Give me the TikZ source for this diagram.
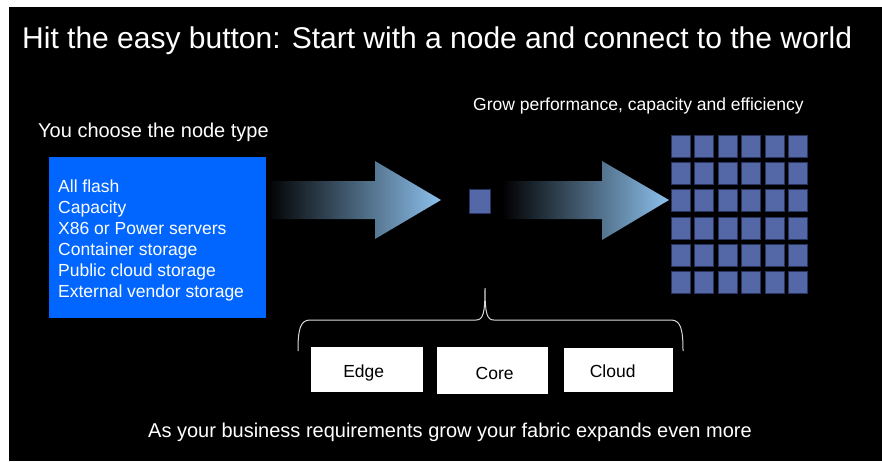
\documentclass[tikz,border=0pt]{standalone}
\usepackage{fontspec}
\setmainfont{Liberation Sans}
\usetikzlibrary{shapes.geometric}
\definecolor{boxblue}{RGB}{0,102,255}
\definecolor{sqblue}{RGB}{84,104,168}
\definecolor{sqedge}{RGB}{40,52,95}
\definecolor{arrowlight}{RGB}{140,192,236}
\tikzset{
  txt/.style={text=white, inner sep=0pt, anchor=base west},
  sq/.style={fill=sqblue, draw=sqedge, line width=0.8pt},
  tier/.style={fill=white, draw=none, inner sep=0pt, font=\fontsize{17.5}{20}\selectfont, text=black},
  tierlabel/.style={anchor=base, inner sep=0pt, font=\fontsize{17.5}{20}\selectfont},
}
\begin{document}
\begin{tikzpicture}[x=1pt,y=-1pt]
\useasboundingbox (0,0) rectangle (882,461);
\fill[white] (0,0) rectangle (882,461);
\fill[black] (9,7) rectangle (882,461);
% title
\node[txt, font=\fontsize{30}{34}\selectfont] (title) at (22,48) {Hit the easy button: Start with a node and connect to the world};
\node[txt, font=\fontsize{17.5}{20}\selectfont] (grow) at (473,110) {Grow performance, capacity and efficiency};
\node[txt, font=\fontsize{20}{24}\selectfont] (choose) at (38,137) {You choose the node type};
% arrows
\shade[left color=black, right color=arrowlight]
  (266,181) -- (375,181) -- (375,161) -- (441,200) -- (375,239) -- (375,219) -- (266,219) -- cycle;
\shade[left color=black, right color=arrowlight]
  (502,181) -- (602,181) -- (602,161) -- (669,200) -- (602,240) -- (602,219) -- (502,219) -- cycle;
% blue box
\node[fill=boxblue, minimum width=217pt, minimum height=161pt, anchor=north west, inner sep=0pt] (types) at (49,157) {};
\foreach \t [count=\i from 0] in {All flash, Capacity, X86 or Power servers, Container storage, Public cloud storage, External vendor storage}
  \node[txt, font=\fontsize{17.5}{20}\selectfont] (t\i) at (58,192+21*\i) {\t};
% single node
\node[sq, minimum width=21pt, minimum height=24pt, inner sep=0pt, anchor=north west] (one) at (469,189) {};
% grid
\foreach \r in {0,...,5}
  \foreach \c in {0,...,5}
    \node[sq, minimum width=19pt, minimum height=22pt, inner sep=0pt, anchor=north west] (g\r\c) at (671+23.4*\c,135+27.2*\r) {};
% brace
\draw[white!85!black, line width=1pt]
  (298,351) .. controls (298,330) and (300,320) .. (310,320) -- (476,320)
  .. controls (483,320) and (485,314) .. (485,288)
  .. controls (485,314) and (487,320) .. (494,320) -- (671,320)
  .. controls (681,320) and (683,330) .. (683,351);
% tiers
\node[tier, minimum width=112pt, minimum height=45pt, anchor=north west] (edge) at (311,347) {};
\node[tierlabel] (edgel) at ([xshift=-3.5pt]edge.center |- 0,377) {Edge};
\node[tier, minimum width=111pt, minimum height=47pt, anchor=north west] (core) at (437,347) {};
\node[tierlabel] (corel) at ([xshift=2pt]core.center |- 0,379) {Core};
\node[tier, minimum width=109pt, minimum height=44pt, anchor=north west] (cloud) at (564,348) {};
\node[tierlabel] (cloudl) at ([xshift=-6pt]cloud.center |- 0,377) {Cloud};
% bottom
\node[txt, font=\fontsize{20}{24}\selectfont] (bottom) at (148,437) {As your business requirements grow your fabric expands even more};
\end{tikzpicture}
\end{document}
